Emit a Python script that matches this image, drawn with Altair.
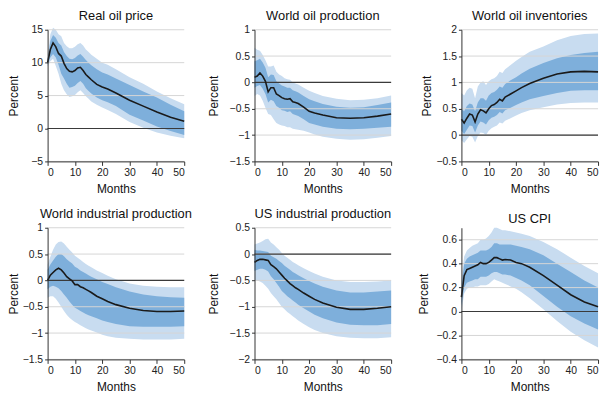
import altair as alt
import pandas as pd

MONTHS = [0, 1, 2, 3, 4, 5, 6, 7, 8, 9, 10, 11, 12, 13, 14, 15, 16, 18, 20, 22, 25, 30, 35, 40, 45, 50]

TITLES = ["Real oil price", "World oil production", "World oil inventories",
          "World industrial production", "US industrial production", "US CPI"]
Y_DOMAINS = [[-5, 15], [-1.5, 1], [-0.5, 2], [-1.5, 1], [-2, 0.5], [-0.4, 0.7]]
Y_TICKS = [[-5, 0, 5, 10, 15],
           [-1.5, -1, -0.5, 0, 0.5, 1],
           [-0.5, 0, 0.5, 1, 1.5, 2],
           [-1.5, -1, -0.5, 0, 0.5, 1],
           [-2, -1.5, -1, -0.5, 0, 0.5],
           [-0.4, -0.2, 0, 0.2, 0.4, 0.6]]
X_TICKS = [0, 10, 20, 30, 40, 50]
TITLE_X = [-34, -41, -35, -34, -41, -38]

# Real oil price
P1_MED = [10.0, 12.0, 13.0, 12.4, 11.4, 11.0, 9.9, 9.1, 8.7, 8.6, 8.8, 9.2, 9.3, 8.8, 8.2, 7.8, 7.4, 6.7, 6.3, 6.0, 5.4, 4.3, 3.4, 2.5, 1.7, 1.1]
P1_IN_HI = [10.3, 13.3, 14.2, 13.8, 13.0, 12.6, 11.6, 11.0, 10.6, 10.5, 10.7, 11.1, 11.3, 10.9, 10.4, 10.0, 9.6, 9.0, 8.5, 8.2, 7.6, 6.6, 5.6, 4.7, 3.6, 2.6]
P1_IN_LO = [9.7, 10.8, 11.3, 10.8, 9.7, 8.3, 7.6, 6.8, 6.2, 6.3, 6.5, 6.9, 7.2, 6.8, 6.1, 5.7, 5.3, 4.7, 4.3, 4.0, 3.4, 2.1, 1.2, 0.3, -0.4, -1.0]
P1_OUT_HI = [10.6, 14.3, 15.3, 15.0, 14.3, 14.0, 13.0, 12.5, 12.2, 12.2, 12.4, 12.8, 13.0, 12.6, 12.0, 11.6, 11.2, 10.6, 10.0, 9.7, 9.0, 7.8, 6.8, 5.6, 4.6, 3.7]
P1_OUT_LO = [9.4, 10.2, 10.6, 9.5, 8.3, 6.8, 5.8, 5.2, 4.8, 4.9, 5.1, 5.5, 5.8, 5.4, 4.9, 4.5, 4.1, 3.6, 3.2, 2.8, 2.2, 1.0, 0.1, -0.6, -1.1, -1.5]

# World oil production
P2_MED = [0.10, 0.12, 0.18, 0.12, 0.02, -0.18, -0.10, -0.10, -0.22, -0.25, -0.29, -0.31, -0.32, -0.31, -0.37, -0.38, -0.40, -0.47, -0.55, -0.58, -0.62, -0.67, -0.68, -0.67, -0.64, -0.60]
P2_IN_HI = [0.40, 0.42, 0.45, 0.38, 0.28, 0.10, 0.15, 0.14, 0.02, -0.02, -0.06, -0.08, -0.10, -0.10, -0.15, -0.17, -0.19, -0.26, -0.32, -0.36, -0.41, -0.46, -0.48, -0.47, -0.43, -0.38]
P2_IN_LO = [-0.10, -0.07, -0.05, -0.12, -0.22, -0.38, -0.33, -0.36, -0.45, -0.48, -0.53, -0.54, -0.56, -0.55, -0.60, -0.62, -0.64, -0.70, -0.77, -0.80, -0.84, -0.88, -0.89, -0.88, -0.86, -0.84]
P2_OUT_HI = [0.66, 0.62, 0.60, 0.52, 0.42, 0.30, 0.30, 0.32, 0.20, 0.15, 0.12, 0.08, 0.06, 0.05, 0.00, -0.02, -0.04, -0.10, -0.16, -0.20, -0.26, -0.31, -0.34, -0.33, -0.30, -0.25]
P2_OUT_LO = [-0.26, -0.22, -0.25, -0.35, -0.48, -0.60, -0.62, -0.70, -0.77, -0.80, -0.82, -0.83, -0.85, -0.85, -0.88, -0.89, -0.90, -0.92, -0.95, -0.99, -1.03, -1.07, -1.09, -1.08, -1.05, -1.02]

# World oil inventories
P3_MED = [0.30, 0.23, 0.32, 0.40, 0.38, 0.25, 0.40, 0.48, 0.46, 0.42, 0.50, 0.56, 0.58, 0.62, 0.68, 0.65, 0.72, 0.78, 0.84, 0.90, 0.98, 1.08, 1.16, 1.20, 1.21, 1.20]
P3_IN_HI = [0.50, 0.45, 0.55, 0.60, 0.58, 0.45, 0.62, 0.70, 0.70, 0.65, 0.75, 0.80, 0.82, 0.86, 0.92, 0.90, 0.97, 1.04, 1.10, 1.17, 1.26, 1.37, 1.46, 1.52, 1.56, 1.58]
P3_IN_LO = [0.08, 0.02, 0.10, 0.18, 0.17, 0.05, 0.18, 0.26, 0.24, 0.20, 0.28, 0.33, 0.35, 0.38, 0.44, 0.41, 0.47, 0.52, 0.57, 0.62, 0.68, 0.74, 0.80, 0.84, 0.85, 0.85]
P3_OUT_HI = [0.80, 0.75, 0.85, 0.90, 0.88, 0.70, 0.92, 1.00, 1.02, 0.95, 1.02, 1.06, 1.08, 1.12, 1.20, 1.18, 1.25, 1.33, 1.41, 1.48, 1.58, 1.68, 1.80, 1.88, 1.92, 1.93]
P3_OUT_LO = [-0.10, -0.15, -0.08, -0.02, -0.03, -0.14, -0.02, 0.05, 0.04, 0.00, 0.08, 0.13, 0.16, 0.18, 0.24, 0.22, 0.27, 0.32, 0.37, 0.42, 0.47, 0.53, 0.58, 0.61, 0.62, 0.62]

# World industrial production
P4_MED = [0.00, 0.10, 0.15, 0.20, 0.23, 0.20, 0.14, 0.07, 0.03, -0.01, -0.08, -0.08, -0.12, -0.14, -0.17, -0.20, -0.23, -0.30, -0.35, -0.40, -0.46, -0.53, -0.57, -0.59, -0.59, -0.58]
P4_IN_HI = [0.20, 0.30, 0.38, 0.45, 0.50, 0.50, 0.46, 0.40, 0.36, 0.32, 0.26, 0.23, 0.19, 0.16, 0.13, 0.10, 0.07, 0.02, -0.03, -0.07, -0.13, -0.21, -0.27, -0.30, -0.32, -0.33]
P4_IN_LO = [-0.17, -0.12, -0.10, -0.12, -0.15, -0.20, -0.27, -0.33, -0.40, -0.46, -0.52, -0.55, -0.58, -0.61, -0.64, -0.66, -0.68, -0.72, -0.76, -0.79, -0.83, -0.87, -0.88, -0.88, -0.88, -0.87]
P4_OUT_HI = [0.30, 0.45, 0.58, 0.68, 0.73, 0.74, 0.70, 0.64, 0.58, 0.53, 0.47, 0.43, 0.39, 0.35, 0.31, 0.28, 0.25, 0.19, 0.14, 0.09, 0.02, -0.06, -0.10, -0.12, -0.13, -0.13]
P4_OUT_LO = [-0.33, -0.30, -0.30, -0.35, -0.42, -0.50, -0.58, -0.65, -0.71, -0.75, -0.79, -0.82, -0.85, -0.88, -0.91, -0.93, -0.95, -0.99, -1.03, -1.06, -1.09, -1.11, -1.12, -1.12, -1.12, -1.11]

# US industrial production
P5_MED = [-0.16, -0.12, -0.10, -0.10, -0.11, -0.12, -0.20, -0.24, -0.28, -0.34, -0.40, -0.46, -0.51, -0.56, -0.60, -0.64, -0.67, -0.74, -0.80, -0.86, -0.93, -1.01, -1.05, -1.05, -1.03, -1.00]
P5_IN_HI = [0.08, 0.07, 0.07, 0.06, 0.05, 0.04, -0.03, -0.06, -0.09, -0.13, -0.17, -0.22, -0.26, -0.30, -0.34, -0.37, -0.40, -0.46, -0.51, -0.56, -0.62, -0.69, -0.73, -0.73, -0.71, -0.69]
P5_IN_LO = [-0.32, -0.30, -0.28, -0.28, -0.30, -0.33, -0.42, -0.48, -0.55, -0.62, -0.70, -0.75, -0.80, -0.84, -0.88, -0.92, -0.96, -1.03, -1.09, -1.15, -1.22, -1.30, -1.34, -1.35, -1.35, -1.33]
P5_OUT_HI = [0.18, 0.20, 0.22, 0.25, 0.28, 0.29, 0.22, 0.18, 0.13, 0.08, 0.02, -0.03, -0.07, -0.11, -0.15, -0.18, -0.21, -0.27, -0.32, -0.37, -0.43, -0.50, -0.53, -0.53, -0.52, -0.50]
P5_OUT_LO = [-0.50, -0.50, -0.52, -0.55, -0.60, -0.66, -0.74, -0.80, -0.86, -0.93, -1.00, -1.05, -1.10, -1.14, -1.18, -1.22, -1.26, -1.33, -1.39, -1.44, -1.50, -1.56, -1.59, -1.60, -1.60, -1.58]

# US CPI
P6_MED = [0.12, 0.30, 0.35, 0.36, 0.37, 0.38, 0.39, 0.41, 0.40, 0.40, 0.41, 0.43, 0.45, 0.45, 0.44, 0.43, 0.435, 0.43, 0.41, 0.40, 0.37, 0.30, 0.22, 0.14, 0.08, 0.04]
P6_IN_HI = [0.20, 0.40, 0.44, 0.46, 0.47, 0.48, 0.49, 0.51, 0.51, 0.51, 0.52, 0.54, 0.57, 0.57, 0.56, 0.56, 0.56, 0.56, 0.55, 0.54, 0.52, 0.47, 0.40, 0.33, 0.26, 0.20]
P6_IN_LO = [0.05, 0.20, 0.24, 0.25, 0.26, 0.27, 0.27, 0.29, 0.29, 0.29, 0.30, 0.32, 0.33, 0.33, 0.32, 0.31, 0.31, 0.30, 0.28, 0.26, 0.22, 0.13, 0.04, -0.04, -0.10, -0.15]
P6_OUT_HI = [0.25, 0.46, 0.51, 0.53, 0.55, 0.56, 0.57, 0.60, 0.60, 0.61, 0.63, 0.66, 0.70, 0.70, 0.69, 0.68, 0.68, 0.67, 0.66, 0.65, 0.63, 0.58, 0.52, 0.45, 0.38, 0.32]
P6_OUT_LO = [0.00, 0.15, 0.19, 0.20, 0.20, 0.21, 0.21, 0.22, 0.22, 0.22, 0.23, 0.25, 0.27, 0.26, 0.25, 0.24, 0.23, 0.21, 0.19, 0.16, 0.11, 0.02, -0.08, -0.17, -0.24, -0.30]

SERIES = [
    (P1_MED, P1_IN_LO, P1_IN_HI, P1_OUT_LO, P1_OUT_HI),
    (P2_MED, P2_IN_LO, P2_IN_HI, P2_OUT_LO, P2_OUT_HI),
    (P3_MED, P3_IN_LO, P3_IN_HI, P3_OUT_LO, P3_OUT_HI),
    (P4_MED, P4_IN_LO, P4_IN_HI, P4_OUT_LO, P4_OUT_HI),
    (P5_MED, P5_IN_LO, P5_IN_HI, P5_OUT_LO, P5_OUT_HI),
    (P6_MED, P6_IN_LO, P6_IN_HI, P6_OUT_LO, P6_OUT_HI),
]

LIGHT = "#c8dcf0"
DARK = "#7eafdb"
FONT = "Liberation Sans"


def panel(i):
    med, in_lo, in_hi, out_lo, out_hi = SERIES[i]
    df = pd.DataFrame({"month": MONTHS, "med": med, "in_lo": in_lo, "in_hi": in_hi,
                       "out_lo": out_lo, "out_hi": out_hi})
    yscale = alt.Scale(domain=Y_DOMAINS[i], nice=False, zero=False)
    yaxis = alt.Axis(values=Y_TICKS[i], format="~g", title="Percent", grid=False,
                     titleX=TITLE_X[i], titleBaseline="middle", tickSize=3,
                     labelPadding=2, zindex=1)
    x = alt.X("month:Q", scale=alt.Scale(domain=[0, 50], nice=False),
              axis=alt.Axis(values=X_TICKS, title="Months", grid=False, tickSize=4,
                            labelPadding=2, titlePadding=6, zindex=1))

    def Y(field):
        return alt.Y(field, type="quantitative", scale=yscale, axis=yaxis)

    outer = alt.Chart(df).mark_area(color=LIGHT, opacity=1).encode(x=x, y=Y("out_lo"), y2="out_hi")
    inner = alt.Chart(df).mark_area(color=DARK, opacity=1).encode(x=x, y=Y("in_lo"), y2="in_hi")
    grid = alt.Chart(pd.DataFrame({"v": Y_TICKS[i]})).mark_rule(
        color="#d6d6d6", strokeWidth=1).encode(y=Y("v"))
    zero = alt.Chart(pd.DataFrame({"v": [0]})).mark_rule(
        color="#3a3a3a", strokeWidth=1.2).encode(y=Y("v"))
    line = alt.Chart(df).mark_line(color="#1a1a1a", strokeWidth=1.6).encode(x=x, y=Y("med"))
    return alt.layer(outer, inner, grid, zero, line).properties(
        width=138, height=133,
        title=alt.TitleParams(TITLES[i], fontSize=13, fontWeight="normal", font=FONT,
                              color="#111", offset=2, anchor="middle"))


chart = alt.concat(*[panel(i) for i in range(6)], columns=3,
                   spacing={"row": 67, "column": 71}, bounds="flush").properties(
    padding={"left": 0, "top": 0, "right": 0, "bottom": 0}
).configure_view(stroke=None).configure_axis(
    labelFont=FONT, labelFontSize=10.5, labelColor="#222",
    titleFont=FONT, titleFontSize=12, titleFontWeight="normal", titleColor="#111",
    domainColor="#333", tickColor="#333", domainWidth=1
)

chart.save("out.html", embed_options={"renderer": "svg", "actions": False})
